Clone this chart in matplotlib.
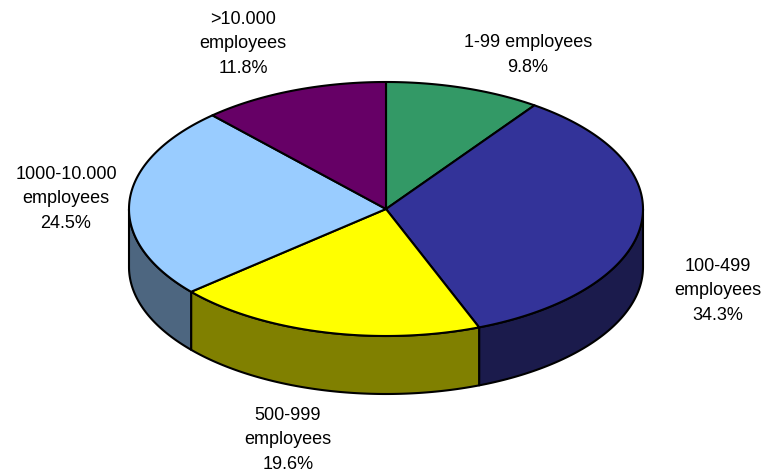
import numpy as np
import matplotlib
matplotlib.use("Agg")
import matplotlib.pyplot as plt
from matplotlib.patches import Polygon

# Company size distribution
categories = ["1-99 employees", "100-499 employees", "500-999 employees",
              "1000-10.000 employees", ">10.000 employees"]
shares = [9.8, 34.3, 19.6, 24.5, 11.8]
label_texts = ["1-99 employees\n9.8%", "100-499\nemployees\n34.3%",
               "500-999\nemployees\n19.6%", "1000-10.000\nemployees\n24.5%",
               ">10.000\nemployees\n11.8%"]
top_colors = ["#339966", "#333399", "#FFFF00", "#99CCFF", "#660066"]
side_colors = ["#1F5C3D", "#1B1B4C", "#808000", "#4D6680", "#330033"]

W, H = 766, 477
fig = plt.figure(figsize=(W / 100, H / 100), dpi=100)
ax = fig.add_axes([0, 0, 1, 1])
ax.set_xlim(0, W)
ax.set_ylim(H, 0)
ax.axis("off")

# Ellipse geometry of the tilted pie (pixel units)
cx, cy = 386, 210
rx, ry = 257, 127
depth = 58
lw = 1.5


def pt(theta_deg, dy=0.0):
    t = np.radians(theta_deg)
    return cx + rx * np.sin(t), cy - ry * np.cos(t) + dy


fractions = np.array(shares) / np.sum(shares)
bounds = np.concatenate([[0], np.cumsum(fractions)]) * 360.0

# Side walls: only the front half (90..270 degrees clockwise from top) shows
for i in range(len(shares)):
    a0, a1 = max(bounds[i], 90), min(bounds[i + 1], 270)
    if a1 <= a0:
        continue
    th = np.linspace(a0, a1, 120)
    top = [pt(t) for t in th]
    bot = [pt(t, depth) for t in th[::-1]]
    ax.add_patch(Polygon(top + bot, closed=True, facecolor=side_colors[i],
                         edgecolor="black", linewidth=lw, joinstyle="round"))

# Top face wedges
for i in range(len(shares)):
    th = np.linspace(bounds[i], bounds[i + 1], 200)
    verts = [(cx, cy)] + [pt(t) for t in th]
    ax.add_patch(Polygon(verts, closed=True, facecolor=top_colors[i],
                         edgecolor="black", linewidth=lw, joinstyle="round"))

# Data labels
label_pos = [(528, 55), (718, 291), (288, 440), (66, 199), (243, 44)]
for txt, (x, y) in zip(label_texts, label_pos):
    ax.text(x, y, txt, ha="center", va="center", multialignment="center",
            fontsize=13, family=["Liberation Sans", "DejaVu Sans"],
            color="black", linespacing=1.55)

fig.savefig("out.png", dpi=100, facecolor="white")
